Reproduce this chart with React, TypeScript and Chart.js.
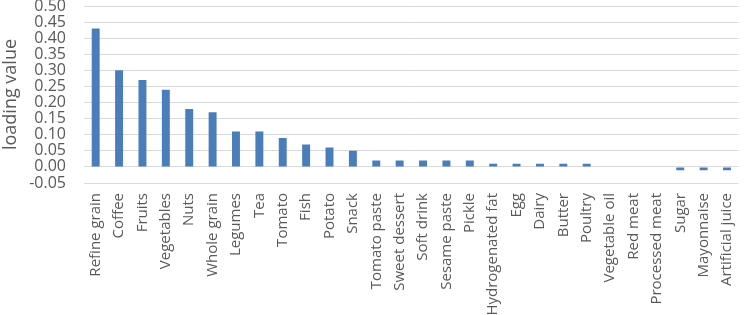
import React, { useEffect, useRef } from "react";
import { Chart, registerables } from "chart.js";

Chart.register(...registerables);

const categories = [
  "Refine grain", "Coffee", "Fruits", "Vegetables", "Nuts", "Whole grain", "Legumes", "Tea",
  "Tomato", "Fish", "Potato", "Snack", "Tomato paste", "Sweet dessert", "Soft drink",
  "Sesame paste", "Pickle", "Hydrogenated fat", "Egg", "Dairy", "Butter", "Poultry",
  "Vegetable oil", "Red meat", "Processed meat", "Sugar", "Mayonnaise", "Artificial juice",
];
const loadingValues = [
  0.43, 0.30, 0.27, 0.24, 0.18, 0.17, 0.11, 0.11,
  0.09, 0.07, 0.06, 0.05, 0.02, 0.02, 0.02,
  0.02, 0.02, 0.01, 0.01, 0.01, 0.01, 0.01,
  0, 0, 0, -0.01, -0.01, -0.01,
];
const yMin = -0.05;
const yMax = 0.5;
const yStep = 0.05;
const yTitle = "loading value";

export default function App() {
  const ref = useRef<HTMLCanvasElement | null>(null);
  useEffect(() => {
    document.body.style.margin = "0";
    const ctx = ref.current!;
    const font = "'Open Sans', 'Liberation Sans', sans-serif";
    const chart = new Chart(ctx, {
      type: "bar",
      data: {
        labels: categories,
        datasets: [
          {
            data: loadingValues,
            backgroundColor: "#4a7ebb",
            barPercentage: 0.68,
            categoryPercentage: 0.5,
          },
        ],
      },
      options: {
        animation: false,
        responsive: false,
        maintainAspectRatio: false,
        layout: { padding: { top: 0, right: 0, left: 0, bottom: 0 } },
        plugins: { legend: { display: false }, tooltip: { enabled: false } },
        scales: {
          x: {
            grid: { display: false },
            border: { display: false },
            ticks: {
              autoSkip: false,
              maxRotation: 90,
              minRotation: 90,
              color: "#595959",
              padding: 2,
              font: { family: font, size: 15 },
            },
            afterFit: (s: any) => {
              s.height = 132;
              s.paddingTop = 0;
              s.paddingBottom = 0;
            },
          },
          y: {
            min: yMin,
            max: yMax,
            grid: { color: "#d9d9d9", drawTicks: false, lineWidth: 1 },
            border: { display: false },
            ticks: {
              autoSkip: false,
              stepSize: yStep,
              padding: 18,
              color: "#595959",
              font: { family: font, size: 16 },
              callback: (v: any) => Number(v).toFixed(2),
            },
            title: {
              display: true,
              text: yTitle,
              color: "#595959",
              font: { family: font, size: 18 },
              padding: { top: 0, bottom: 0 },
            },
            afterFit: (s: any) => {
              s.width = 84;
              s.paddingTop = 6;
              s.paddingBottom = 0;
            },
          },
        },
      },
    });
    return () => chart.destroy();
  }, []);
  return (
    <div style={{ width: 747, height: 315 }}>
      <canvas ref={ref} width={747} height={315} />
    </div>
  );
}
